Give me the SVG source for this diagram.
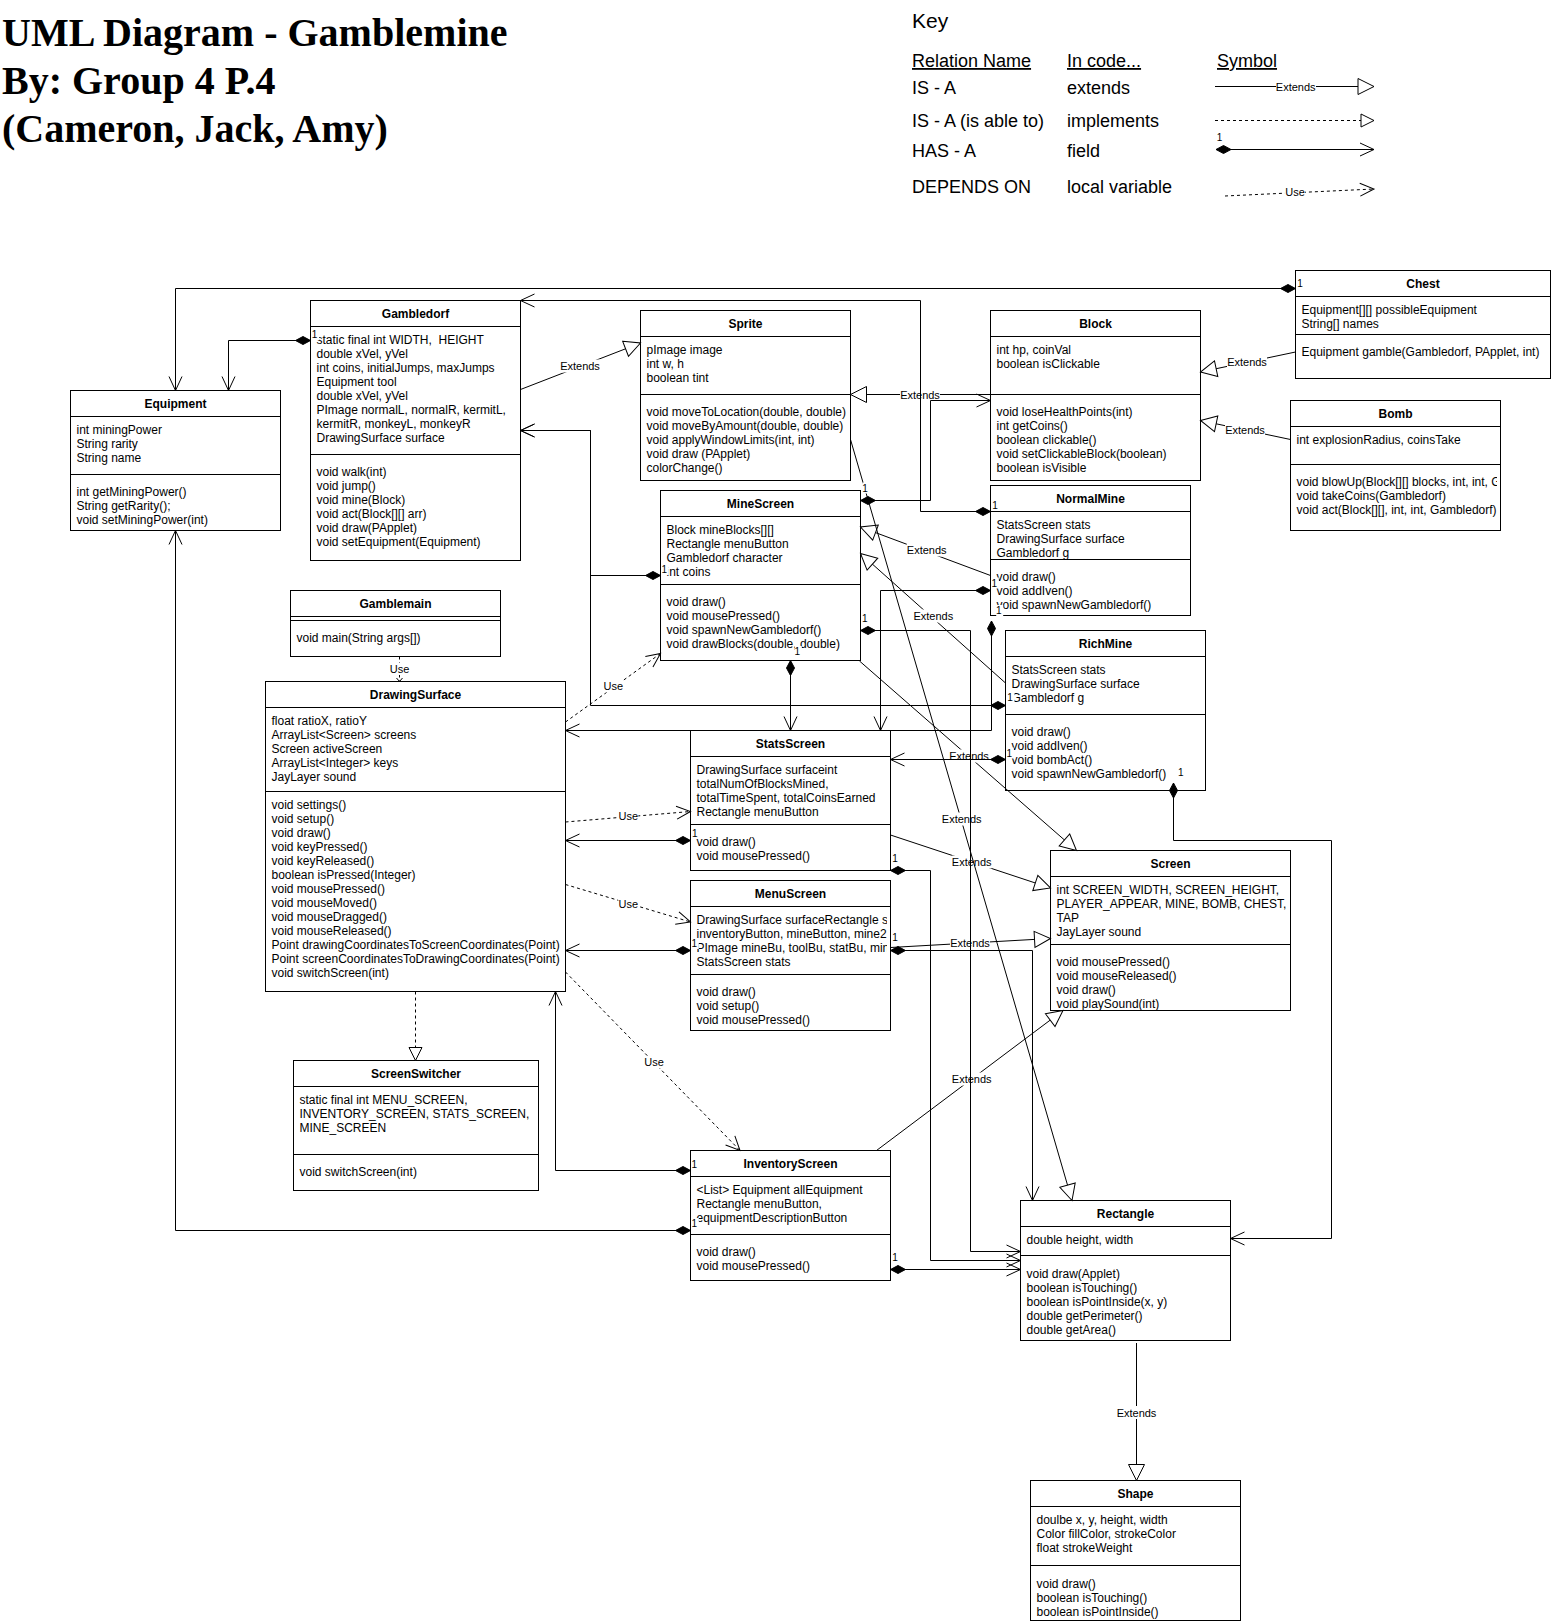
<svg xmlns="http://www.w3.org/2000/svg" width="1551" height="1623" viewBox="0 0 1551 1623">
<style>
  text{font-family:"Liberation Sans",Arial,Helvetica,sans-serif;fill:#000}
  .node rect{fill:#fff;stroke:#000;stroke-width:1}
  .node path{fill:none;stroke:#000;stroke-width:1}
  .t{font-size:12px;font-weight:bold;text-anchor:middle}
  .m{font-size:12px}
  .ln{fill:none;stroke:#000;stroke-width:1}
  .dash{stroke-dasharray:3 3}
  .ext{marker-end:url(#tri)}
  .has{marker-start:url(#dia);marker-end:url(#open)}
  .use{marker-end:url(#open)}
  .lbl{font-size:11px;text-anchor:middle}
  .one{font-size:10px;text-anchor:middle}
  .bg{fill:#fff;stroke:none}
  .title{font-family:"Liberation Serif","Times New Roman",serif;font-size:40px;font-weight:bold}
  .key{font-size:18px}
  .u{text-decoration:underline}
</style>
<defs>
  <marker id="tri" markerUnits="userSpaceOnUse" markerWidth="20" markerHeight="20" refX="16" refY="8" orient="auto" overflow="visible">
    <path d="M0,0L16,8L0,16Z" fill="#fff" stroke="#000" stroke-width="1"/>
  </marker>
  <marker id="triS" markerUnits="userSpaceOnUse" markerWidth="16" markerHeight="16" refX="13" refY="6.5" orient="auto" overflow="visible">
    <path d="M0,0L13,6.5L0,13Z" fill="#fff" stroke="#000" stroke-width="1"/>
  </marker>
  <marker id="open" markerUnits="userSpaceOnUse" markerWidth="16" markerHeight="16" refX="14" refY="6.5" orient="auto" overflow="visible">
    <path d="M0,0L14,6.5L0,13" fill="none" stroke="#000" stroke-width="1"/>
  </marker>
  <marker id="dia" markerUnits="userSpaceOnUse" markerWidth="16" markerHeight="10" refX="0" refY="4" orient="auto" overflow="visible">
    <path d="M0,4L7.5,0L15,4L7.5,8Z" fill="#000" stroke="#000" stroke-width="1"/>
  </marker>
  <clipPath id="clipBomb"><rect x="1291" y="465" width="206" height="65"/></clipPath>
  <clipPath id="clipMenu"><rect x="691" y="907" width="196" height="67"/></clipPath>
</defs>

<!-- heading -->
<g id="heading">
  <text class="title" x="2" y="46">UML Diagram - Gamblemine</text>
  <text class="title" x="2" y="94">By: Group 4 P.4</text>
  <text class="title" x="2" y="142">(Cameron, Jack, Amy)</text>
</g>

<!-- legend -->
<g id="legend">
  <text x="912" y="28" style="font-size:21px">Key</text>
  <text class="key u" x="912" y="67">Relation Name</text>
  <text class="key u" x="1067" y="67">In code...</text>
  <text class="key u" x="1217" y="67">Symbol</text>
  <text class="key" x="912" y="93.5">IS - A</text>
  <text class="key" x="1067" y="93.5">extends</text>
  <text class="key" x="912" y="127">IS - A (is able to)</text>
  <text class="key" x="1067" y="127">implements</text>
  <text class="key" x="912" y="156.5">HAS - A</text>
  <text class="key" x="1067" y="156.5">field</text>
  <text class="key" x="912" y="193">DEPENDS ON</text>
  <text class="key" x="1067" y="193">local variable</text>
  <path class="ln ext" d="M1215,86.5H1374"/>
  <rect class="bg" x="1276" y="80" width="40" height="13"/>
  <text class="lbl" x="1295.7" y="90.5">Extends</text>
  <path class="ln dash" d="M1215,120.5H1374" marker-end="url(#triS)"/>
  <path class="ln has" d="M1216,149.5H1374"/>
  <text class="one" x="1219.5" y="141">1</text>
  <path class="ln dash use" d="M1225,196L1374,189"/>
  <rect class="bg" x="1285" y="186" width="20" height="12"/>
  <text class="lbl" x="1295" y="196">Use</text>
</g>

<!-- classes -->
<g id="nodes">
  <g id="equipment" class="node">
    <rect x="70.5" y="390.5" width="210" height="140"/>
    <path d="M70.5,416.5H280.5M70.5,474.5H280.5"/>
    <text class="t" x="175.5" y="408">Equipment</text>
    <text class="m" x="76.5" y="433.7">int miningPower</text>
    <text class="m" x="76.5" y="447.7">String rarity</text>
    <text class="m" x="76.5" y="461.7">String name</text>
    <text class="m" x="76.5" y="496.3">int getMiningPower()</text>
    <text class="m" x="76.5" y="510.3">String getRarity();</text>
    <text class="m" x="76.5" y="524.3">void setMiningPower(int)</text>
  </g>

  <g id="gambledorf" class="node">
    <rect x="310.5" y="300.5" width="210" height="260"/>
    <path d="M310.5,326.5H520.5M310.5,454.5H520.5"/>
    <text class="t" x="415.5" y="318">Gambledorf</text>
    <text class="m" x="316.5" y="343.7" xml:space="preserve">static final int WIDTH,  HEIGHT</text>
    <text class="m" x="316.5" y="357.7">double xVel, yVel</text>
    <text class="m" x="316.5" y="371.7">int coins, initialJumps, maxJumps</text>
    <text class="m" x="316.5" y="385.7">Equipment tool</text>
    <text class="m" x="316.5" y="399.7">double xVel, yVel</text>
    <text class="m" x="316.5" y="413.7">PImage normalL, normalR, kermitL,</text>
    <text class="m" x="316.5" y="427.7">kermitR, monkeyL, monkeyR</text>
    <text class="m" x="316.5" y="441.7">DrawingSurface surface</text>
    <text class="m" x="316.5" y="476.3">void walk(int)</text>
    <text class="m" x="316.5" y="490.3">void jump()</text>
    <text class="m" x="316.5" y="504.3">void mine(Block)</text>
    <text class="m" x="316.5" y="518.3">void act(Block[][] arr)</text>
    <text class="m" x="316.5" y="532.3">void draw(PApplet)</text>
    <text class="m" x="316.5" y="546.3">void setEquipment(Equipment)</text>
  </g>

  <g id="sprite" class="node">
    <rect x="640.5" y="310.5" width="210" height="170"/>
    <path d="M640.5,336.5H850.5M640.5,394.5H850.5"/>
    <text class="t" x="745.5" y="328">Sprite</text>
    <text class="m" x="646.5" y="353.7">pImage image</text>
    <text class="m" x="646.5" y="367.7">int w, h</text>
    <text class="m" x="646.5" y="381.7">boolean tint</text>
    <text class="m" x="646.5" y="416.3">void moveToLocation(double, double)</text>
    <text class="m" x="646.5" y="430.3">void moveByAmount(double, double)</text>
    <text class="m" x="646.5" y="444.3">void applyWindowLimits(int, int)</text>
    <text class="m" x="646.5" y="458.3">void draw (PApplet)</text>
    <text class="m" x="646.5" y="472.3">colorChange()</text>
  </g>

  <g id="block" class="node">
    <rect x="990.5" y="310.5" width="210" height="170"/>
    <path d="M990.5,336.5H1200.5M990.5,394.5H1200.5"/>
    <text class="t" x="1095.5" y="328">Block</text>
    <text class="m" x="996.5" y="353.7">int hp, coinVal</text>
    <text class="m" x="996.5" y="367.7">boolean isClickable</text>
    <text class="m" x="996.5" y="416.3">void loseHealthPoints(int)</text>
    <text class="m" x="996.5" y="430.3">int getCoins()</text>
    <text class="m" x="996.5" y="444.3">boolean clickable()</text>
    <text class="m" x="996.5" y="458.3">void setClickableBlock(boolean)</text>
    <text class="m" x="996.5" y="472.3">boolean isVisible</text>
  </g>

  <g id="chest" class="node">
    <rect x="1295.5" y="270.5" width="255" height="108"/>
    <path d="M1295.5,296.5H1550.5M1295.5,334.5H1550.5"/>
    <text class="t" x="1423" y="288">Chest</text>
    <text class="m" x="1301.5" y="313.7">Equipment[][] possibleEquipment</text>
    <text class="m" x="1301.5" y="327.7">String[] names</text>
    <text class="m" x="1301.5" y="356.3">Equipment gamble(Gambledorf, PApplet, int)</text>
  </g>

  <g id="bomb" class="node">
    <rect x="1290.5" y="400.5" width="210" height="130"/>
    <path d="M1290.5,426.5H1500.5M1290.5,464.5H1500.5"/>
    <text class="t" x="1395.5" y="418">Bomb</text>
    <text class="m" x="1296.5" y="443.7">int explosionRadius, coinsTake</text>
    <g clip-path="url(#clipBomb)">
      <text class="m" x="1296.5" y="486.3">void blowUp(Block[][] blocks, int, int, G</text>
      <text class="m" x="1296.5" y="500.3">void takeCoins(Gambledorf)</text>
      <text class="m" x="1296.5" y="514.3">void act(Block[][], int, int, Gambledorf)</text>
    </g>
  </g>

  <g id="normalmine" class="node">
    <rect x="990.5" y="485.5" width="200" height="130"/>
    <path d="M990.5,511.5H1190.5M990.5,559.5H1190.5"/>
    <text class="t" x="1090.5" y="503">NormalMine</text>
    <text class="m" x="996.5" y="528.7">StatsScreen stats</text>
    <text class="m" x="996.5" y="542.7">DrawingSurface surface</text>
    <text class="m" x="996.5" y="556.7">Gambledorf g</text>
    <text class="m" x="996.5" y="581.3">void draw()</text>
    <text class="m" x="996.5" y="595.3">void addIven()</text>
    <text class="m" x="996.5" y="609.3">void spawnNewGambledorf()</text>
  </g>

  <g id="richmine" class="node">
    <rect x="1005.5" y="630.5" width="200" height="160"/>
    <path d="M1005.5,656.5H1205.5M1005.5,714.5H1205.5"/>
    <text class="t" x="1105.5" y="648">RichMine</text>
    <text class="m" x="1011.5" y="673.7">StatsScreen stats</text>
    <text class="m" x="1011.5" y="687.7">DrawingSurface surface</text>
    <text class="m" x="1011.5" y="701.7">Gambledorf g</text>
    <text class="m" x="1011.5" y="736.3">void draw()</text>
    <text class="m" x="1011.5" y="750.3">void addIven()</text>
    <text class="m" x="1011.5" y="764.3">void bombAct()</text>
    <text class="m" x="1011.5" y="778.3">void spawnNewGambledorf()</text>
  </g>

  <g id="minescreen" class="node">
    <rect x="660.5" y="490.5" width="200" height="170"/>
    <path d="M660.5,516.5H860.5M660.5,584.5H860.5"/>
    <text class="t" x="760.5" y="508">MineScreen</text>
    <text class="m" x="666.5" y="533.7">Block mineBlocks[][]</text>
    <text class="m" x="666.5" y="547.7">Rectangle menuButton</text>
    <text class="m" x="666.5" y="561.7">Gambledorf character</text>
    <text class="m" x="666.5" y="575.7">int coins</text>
    <text class="m" x="666.5" y="606.3">void draw()</text>
    <text class="m" x="666.5" y="620.3">void mousePressed()</text>
    <text class="m" x="666.5" y="634.3">void spawnNewGambledorf()</text>
    <text class="m" x="666.5" y="648.3">void drawBlocks(double, double)</text>
  </g>

  <g id="statsscreen" class="node">
    <rect x="690.5" y="730.5" width="200" height="140"/>
    <path d="M690.5,756.5H890.5M690.5,824.5H890.5"/>
    <text class="t" x="790.5" y="748">StatsScreen</text>
    <text class="m" x="696.5" y="773.7">DrawingSurface surfaceint</text>
    <text class="m" x="696.5" y="787.7">totalNumOfBlocksMined,</text>
    <text class="m" x="696.5" y="801.7">totalTimeSpent, totalCoinsEarned</text>
    <text class="m" x="696.5" y="815.7">Rectangle menuButton</text>
    <text class="m" x="696.5" y="846.3">void draw()</text>
    <text class="m" x="696.5" y="860.3">void mousePressed()</text>
  </g>

  <g id="menuscreen" class="node">
    <rect x="690.5" y="880.5" width="200" height="150"/>
    <path d="M690.5,906.5H890.5M690.5,974.5H890.5"/>
    <text class="t" x="790.5" y="898">MenuScreen</text>
    <g clip-path="url(#clipMenu)">
      <text class="m" x="696.5" y="923.7">DrawingSurface surfaceRectangle s</text>
      <text class="m" x="696.5" y="937.7">inventoryButton, mineButton, mine2</text>
      <text class="m" x="696.5" y="951.7">PImage mineBu, toolBu, statBu, min</text>
      <text class="m" x="696.5" y="965.7">StatsScreen stats</text>
    </g>
    <text class="m" x="696.5" y="996.3">void draw()</text>
    <text class="m" x="696.5" y="1010.3">void setup()</text>
    <text class="m" x="696.5" y="1024.3">void mousePressed()</text>
  </g>

  <g id="inventoryscreen" class="node">
    <rect x="690.5" y="1150.5" width="200" height="130"/>
    <path d="M690.5,1176.5H890.5M690.5,1234.5H890.5"/>
    <text class="t" x="790.5" y="1168">InventoryScreen</text>
    <text class="m" x="696.5" y="1193.7">&lt;List&gt; Equipment allEquipment</text>
    <text class="m" x="696.5" y="1207.7">Rectangle menuButton,</text>
    <text class="m" x="696.5" y="1221.7">equipmentDescriptionButton</text>
    <text class="m" x="696.5" y="1256.3">void draw()</text>
    <text class="m" x="696.5" y="1270.3">void mousePressed()</text>
  </g>

  <g id="gamblemain" class="node">
    <rect x="290.5" y="590.5" width="210" height="66"/>
    <path d="M290.5,616.5H500.5M290.5,620.5H500.5"/>
    <text class="t" x="395.5" y="608">Gamblemain</text>
    <text class="m" x="296.5" y="642">void main(String args[])</text>
  </g>

  <g id="drawingsurface" class="node">
    <rect x="265.5" y="681.5" width="300" height="310"/>
    <path d="M265.5,707.5H565.5M265.5,791.5H565.5"/>
    <text class="t" x="415.5" y="699">DrawingSurface</text>
    <text class="m" x="271.5" y="724.7">float ratioX, ratioY</text>
    <text class="m" x="271.5" y="738.7">ArrayList&lt;Screen&gt; screens</text>
    <text class="m" x="271.5" y="752.7">Screen activeScreen</text>
    <text class="m" x="271.5" y="766.7">ArrayList&lt;Integer&gt; keys</text>
    <text class="m" x="271.5" y="780.7">JayLayer sound</text>
    <text class="m" x="271.5" y="808.8">void settings()</text>
    <text class="m" x="271.5" y="822.8">void setup()</text>
    <text class="m" x="271.5" y="836.8">void draw()</text>
    <text class="m" x="271.5" y="850.8">void keyPressed()</text>
    <text class="m" x="271.5" y="864.8">void keyReleased()</text>
    <text class="m" x="271.5" y="878.8">boolean isPressed(Integer)</text>
    <text class="m" x="271.5" y="892.8">void mousePressed()</text>
    <text class="m" x="271.5" y="906.8">void mouseMoved()</text>
    <text class="m" x="271.5" y="920.8">void mouseDragged()</text>
    <text class="m" x="271.5" y="934.8">void mouseReleased()</text>
    <text class="m" x="271.5" y="948.8">Point drawingCoordinatesToScreenCoordinates(Point)</text>
    <text class="m" x="271.5" y="962.8">Point screenCoordinatesToDrawingCoordinates(Point)</text>
    <text class="m" x="271.5" y="976.8">void switchScreen(int)</text>
  </g>

  <g id="screenswitcher" class="node">
    <rect x="293.5" y="1060.5" width="245" height="130"/>
    <path d="M293.5,1086.5H538.5M293.5,1154.5H538.5"/>
    <text class="t" x="416" y="1078">ScreenSwitcher</text>
    <text class="m" x="299.5" y="1103.7">static final int MENU_SCREEN,</text>
    <text class="m" x="299.5" y="1117.7">INVENTORY_SCREEN, STATS_SCREEN,</text>
    <text class="m" x="299.5" y="1131.7">MINE_SCREEN</text>
    <text class="m" x="299.5" y="1176">void switchScreen(int)</text>
  </g>

  <g id="screen" class="node">
    <rect x="1050.5" y="850.5" width="240" height="160"/>
    <path d="M1050.5,876.5H1290.5M1050.5,944.5H1290.5"/>
    <text class="t" x="1170.5" y="868">Screen</text>
    <text class="m" x="1056.5" y="893.7">int SCREEN_WIDTH, SCREEN_HEIGHT,</text>
    <text class="m" x="1056.5" y="907.7">PLAYER_APPEAR, MINE, BOMB, CHEST,</text>
    <text class="m" x="1056.5" y="921.7">TAP</text>
    <text class="m" x="1056.5" y="935.7">JayLayer sound</text>
    <text class="m" x="1056.5" y="966.3">void mousePressed()</text>
    <text class="m" x="1056.5" y="980.3">void mouseReleased()</text>
    <text class="m" x="1056.5" y="994.3">void draw()</text>
    <text class="m" x="1056.5" y="1008.3">void playSound(int)</text>
  </g>

  <g id="rectangle" class="node">
    <rect x="1020.5" y="1200.5" width="210" height="140"/>
    <path d="M1020.5,1226.5H1230.5M1020.5,1255.5H1230.5"/>
    <text class="t" x="1125.5" y="1218">Rectangle</text>
    <text class="m" x="1026.5" y="1243.7">double height, width</text>
    <text class="m" x="1026.5" y="1278.1">void draw(Applet)</text>
    <text class="m" x="1026.5" y="1292.1">boolean isTouching()</text>
    <text class="m" x="1026.5" y="1306.1">boolean isPointInside(x, y)</text>
    <text class="m" x="1026.5" y="1320.1">double getPerimeter()</text>
    <text class="m" x="1026.5" y="1334.1">double getArea()</text>
  </g>

  <g id="shape" class="node">
    <rect x="1030.5" y="1480.5" width="210" height="140"/>
    <path d="M1030.5,1506.5H1240.5M1030.5,1565.5H1240.5"/>
    <text class="t" x="1135.5" y="1498">Shape</text>
    <text class="m" x="1036.5" y="1523.7">doulbe x, y, height, width</text>
    <text class="m" x="1036.5" y="1537.7">Color fillColor, strokeColor</text>
    <text class="m" x="1036.5" y="1551.7">float strokeWeight</text>
    <text class="m" x="1036.5" y="1587.5">void draw()</text>
    <text class="m" x="1036.5" y="1601.5">boolean isTouching()</text>
    <text class="m" x="1036.5" y="1615.5">boolean isPointInside()</text>
  </g>
</g>

<!-- relations -->
<g id="connectors">
  <!-- inheritance -->
  <g id="extends">
    <path class="ln ext" d="M520.5,389.5L640.5,343"/>
    <rect class="bg" x="560" y="359.5" width="40" height="13"/><text class="lbl" x="580" y="370">Extends</text>
    <path class="ln ext" d="M990.5,394.5H850.5"/>
    <rect class="bg" x="900" y="388" width="40" height="13"/><text class="lbl" x="920" y="398.5">Extends</text>
    <path class="ln ext" d="M1295.5,352L1200.5,372"/>
    <rect class="bg" x="1227" y="355.5" width="40" height="13"/><text class="lbl" x="1247" y="366">Extends</text>
    <path class="ln ext" d="M1290.5,439.5L1200.5,420.5"/>
    <rect class="bg" x="1225" y="423.5" width="40" height="13"/><text class="lbl" x="1245" y="434">Extends</text>
    <path class="ln ext" d="M990.5,575.5L860.5,527"/>
    <rect class="bg" x="906.7" y="543.5" width="40" height="13"/><text class="lbl" x="926.7" y="554">Extends</text>
    <path class="ln ext" d="M1005.5,683L860.5,553.5"/>
    <rect class="bg" x="913.3" y="609.5" width="40" height="13"/><text class="lbl" x="933.3" y="620">Extends</text>
    <path class="ln ext" d="M859.5,661L1076.5,850.5"/>
    <rect class="bg" x="949" y="749.5" width="40" height="13"/><text class="lbl" x="969" y="760">Extends</text>
    <path class="ln ext" d="M890.5,835L1050.5,888"/>
    <rect class="bg" x="951.7" y="855.5" width="40" height="13"/><text class="lbl" x="971.7" y="866">Extends</text>
    <path class="ln ext" d="M890.5,947.5L1050.5,938.5"/>
    <rect class="bg" x="950" y="936.5" width="40" height="13"/><text class="lbl" x="970" y="947">Extends</text>
    <path class="ln ext" d="M876.5,1150.5L1063,1010.5"/>
    <rect class="bg" x="951.7" y="1072.5" width="40" height="13"/><text class="lbl" x="971.7" y="1083">Extends</text>
    <path class="ln ext" d="M850.5,439.5L1072,1200.5"/>
    <rect class="bg" x="941.7" y="812.5" width="40" height="13"/><text class="lbl" x="961.7" y="823">Extends</text>
    <path class="ln ext" d="M1136.5,1343V1480.5"/>
    <rect class="bg" x="1116.5" y="1406" width="40" height="13"/><text class="lbl" x="1136.5" y="1416.5">Extends</text>
    <path class="ln dash" d="M415.5,991.5V1060.5" marker-end="url(#triS)"/>
  </g>

  <!-- dependencies -->
  <g id="uses">
    <path class="ln dash" d="M399.5,656.5V681.5"/>
    <rect class="bg" x="389.5" y="663" width="20" height="12"/><text class="lbl" x="399.5" y="673">Use</text>
    <path class="ln" d="M396.5,678L399.5,681.5L402.5,678"/>
    <path class="ln dash use" d="M565.5,722L660.5,653.5"/>
    <rect class="bg" x="603.3" y="680.4" width="20" height="12"/><text class="lbl" x="613.3" y="690.4">Use</text>
    <path class="ln dash use" d="M565.5,822L690.5,811.5"/>
    <rect class="bg" x="618.3" y="810" width="20" height="12"/><text class="lbl" x="628.3" y="820">Use</text>
    <path class="ln dash use" d="M565.5,884.5L690.5,922"/>
    <rect class="bg" x="618.3" y="898.3" width="20" height="12"/><text class="lbl" x="628.3" y="908.3">Use</text>
    <path class="ln dash use" d="M565.5,972L740,1150.5"/>
    <rect class="bg" x="644" y="1056" width="20" height="12"/><text class="lbl" x="654" y="1066">Use</text>
  </g>

  <!-- fields -->
  <g id="fields">
    <path class="ln has" d="M1295.5,288.5H175.5V390.5"/>
    <path class="ln has" d="M310.5,340.5H228.5V390.5"/>
    <path class="ln has" d="M990.5,511.5H920.5V300.5H520.5"/>
    <path class="ln has" d="M660.5,575.5H590.5V430.5H520.5"/>
    <path class="ln has" d="M1005.5,705.5H590.5V430.5H520.5"/>
    <path class="ln has" d="M860.5,500.5H930.5V400.5H990.5"/>
    <path class="ln has" d="M990.5,590.5H880.5V730.5"/>
    <path class="ln has" d="M991.5,621V730.5H565.5"/>
    <path class="ln has" d="M790.5,660.5V730.5"/>
    <path class="ln has" d="M860.5,630.5H970.5V1251.5H1020.5"/>
    <path class="ln has" d="M890.5,870.5H930.5V1260.5H1020.5"/>
    <path class="ln has" d="M890.5,950.5H1032.5V1200.5"/>
    <path class="ln has" d="M890.5,1269.5H1020.5"/>
    <path class="ln has" d="M1173.5,783V840.5H1331.5V1238.5H1230.5"/>
    <path class="ln has" d="M1005.5,759.5H890.5"/>
    <path class="ln has" d="M690.5,840.5H565.5"/>
    <path class="ln has" d="M690.5,950.5H565.5"/>
    <path class="ln has" d="M690.5,1170.5H555.5V991.5"/>
    <path class="ln has" d="M690.5,1230.5H175.5V530.5"/>

    <!-- multiplicities -->
    <rect class="bg" x="1297" y="278" width="7" height="11"/><text class="one" x="1300" y="287.2">1</text>
    <rect class="bg" x="312" y="329" width="7" height="11"/><text class="one" x="314.5" y="338.2">1</text>
    <rect class="bg" x="992.5" y="500" width="7" height="11"/><text class="one" x="995" y="509">1</text>
    <rect class="bg" x="661.8" y="564" width="7" height="11"/><text class="one" x="664.3" y="572.9">1</text>
    <rect class="bg" x="1007.5" y="691.5" width="7" height="11"/><text class="one" x="1010" y="700.6">1</text>
    <rect class="bg" x="862.5" y="482.5" width="7" height="11"/><text class="one" x="865" y="491.6">1</text>
    <rect class="bg" x="991.8" y="577.5" width="7" height="11"/><text class="one" x="994.3" y="586.5">1</text>
    <rect class="bg" x="996.2" y="605" width="7" height="11"/><text class="one" x="998.7" y="614">1</text>
    <rect class="bg" x="794.8" y="646" width="7" height="11"/><text class="one" x="797.3" y="655">1</text>
    <rect class="bg" x="862.2" y="612.5" width="7" height="11"/><text class="one" x="864.7" y="621.5">1</text>
    <rect class="bg" x="892.5" y="852.5" width="7" height="11"/><text class="one" x="895" y="861.5">1</text>
    <rect class="bg" x="892.5" y="931.5" width="7" height="11"/><text class="one" x="895" y="940.7">1</text>
    <rect class="bg" x="892.5" y="1252" width="7" height="11"/><text class="one" x="895" y="1260.9">1</text>
    <rect class="bg" x="1178.2" y="766.5" width="7" height="11"/><text class="one" x="1180.7" y="775.6">1</text>
    <rect class="bg" x="1006.8" y="747.5" width="7" height="11"/><text class="one" x="1009.3" y="756.6">1</text>
    <rect class="bg" x="692.2" y="828" width="7" height="11"/><text class="one" x="694.7" y="837.2">1</text>
    <rect class="bg" x="691.8" y="938" width="7" height="11"/><text class="one" x="694.3" y="947.2">1</text>
    <rect class="bg" x="691.8" y="1158.5" width="7" height="11"/><text class="one" x="694.3" y="1167.7">1</text>
    <rect class="bg" x="691.8" y="1218" width="7" height="11"/><text class="one" x="694.3" y="1227.3">1</text>
  </g>
</g>
</svg>
